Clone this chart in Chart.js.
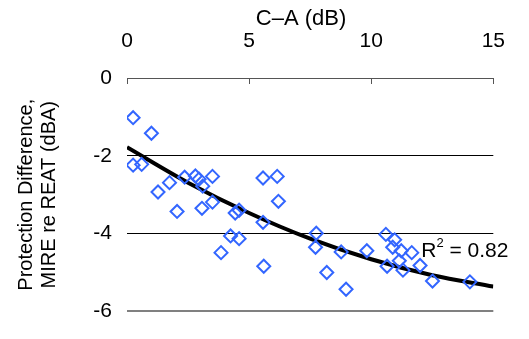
<!DOCTYPE html>
<html>
<head>
<meta charset="utf-8">
<script src="https://cdn.jsdelivr.net/npm/chart.js@4/dist/chart.umd.min.js"></script>
<style>
  html, body { margin: 0; padding: 0; background: #fff; overflow: hidden; }
  canvas { display: block; }
</style>
</head>
<body>
<canvas id="chart" width="529" height="339"></canvas>
<script>
// measured points: C-A (dB) vs protection difference (dBA)
const caValues = [0.25, 1.0, 0.25, 0.6, 1.27, 1.74, 2.36, 2.05, 2.8, 2.95, 3.1, 3.5, 3.07, 3.5,
    3.85, 4.24, 4.43, 4.59, 4.59, 5.57, 6.15, 5.57, 5.6, 6.2,
    7.75, 7.72, 8.18, 8.77, 8.97, 9.82, 10.6, 10.96, 10.88, 11.23, 11.66, 10.65, 11.15, 11.3, 12.0, 12.51, 14.04];
const diffValues = [-1.02, -1.42, -2.24, -2.22, -2.93, -2.69, -2.55, -3.43, -2.52, -2.6, -2.78, -2.53, -3.35, -3.19,
    -4.49, -4.06, -3.47, -3.40, -4.13, -2.57, -2.53, -3.71, -4.84, -3.17,
    -3.99, -4.35, -5.0, -4.47, -5.43, -4.44, -4.02, -4.16, -4.35, -4.44, -4.49, -4.84, -4.70, -4.94, -4.82, -5.22, -5.24];

// trend line
const trendX = [0, 2.5, 5, 7.5, 10, 12.5, 15];
const trendY = [-1.78, -2.69, -3.47, -4.13, -4.66, -5.07, -5.36];

const xTicks = [0, 5, 10, 15];
const yTicks = [0, -2, -4, -6];
const r2Text = "0.82";
const r2Pos = [12.05, -4.45];

const FONT = "'Liberation Sans', Arial, sans-serif";

const points = caValues.map((x, i) => ({ x: x, y: diffValues[i] }));
const trend = trendX.map((x, i) => ({ x: x, y: trendY[i] }));

// small tick marks pointing into the plot from the top axis
const innerTicks = {
    id: "innerTicks",
    afterDraw(chart) {
        const ctx = chart.ctx;
        const xs = chart.scales.x;
        const top = chart.chartArea.top;
        ctx.save();
        ctx.strokeStyle = "#555";
        ctx.lineWidth = 1;
        xTicks.forEach(v => {
            const px = Math.round(xs.getPixelForValue(v)) + 0.5;
            ctx.beginPath();
            ctx.moveTo(px, top);
            ctx.lineTo(px, top + 6);
            ctx.stroke();
        });
        ctx.restore();
    }
};

// R squared label
const r2Label = {
    id: "r2Label",
    afterDatasetsDraw(chart) {
        const ctx = chart.ctx;
        const px = chart.scales.x.getPixelForValue(r2Pos[0]);
        const py = chart.scales.y.getPixelForValue(r2Pos[1]);
        ctx.save();
        ctx.fillStyle = "#000";
        ctx.textBaseline = "middle";
        ctx.font = "21px " + FONT;
        ctx.fillText("R", px, py);
        const w = ctx.measureText("R").width;
        ctx.font = "13px " + FONT;
        ctx.fillText("2", px + w, py - 8);
        const w2 = ctx.measureText("2").width;
        ctx.font = "21px " + FONT;
        ctx.fillText(" = " + r2Text, px + w + w2, py);
        ctx.restore();
    }
};

new Chart(document.getElementById("chart"), {
    type: "scatter",
    data: {
        datasets: [
            {
                label: "trend",
                data: trend,
                type: "line",
                showLine: true,
                borderColor: "#000",
                borderWidth: 4,
                pointRadius: 0,
                cubicInterpolationMode: "monotone",
                fill: false,
                order: 1
            },
            {
                label: "data",
                data: points,
                pointStyle: "rectRot",
                pointRadius: 6.5,
                pointBorderWidth: 2,
                pointBorderColor: "#3366ff",
                pointBackgroundColor: "rgba(255,255,255,0)",
                order: 0
            }
        ]
    },
    options: {
        responsive: false,
        animation: false,
        layout: { padding: { left: 0, right: 17, top: 0, bottom: 7 } },
        plugins: {
            legend: { display: false },
            tooltip: { enabled: false }
        },
        scales: {
            x: {
                type: "linear",
                position: "top",
                min: 0,
                max: 15,
                afterFit: s => { s.height = 78; },
                afterBuildTicks: s => { s.ticks = xTicks.map(v => ({ value: v })); },
                grid: { display: false, drawTicks: false },
                border: { display: true, color: "#555", width: 1 },
                ticks: { color: "#000", font: { family: FONT, size: 21 }, padding: 24, maxRotation: 0 },
                title: {
                    display: true,
                    // trailing spaces nudge the title a little left, as in the original
                    text: "C\u2013A (dB)\u00a0\u00a0\u00a0",
                    color: "#000",
                    font: { family: FONT, size: 22 },
                    padding: { top: 6, bottom: 0 }
                }
            },
            y: {
                type: "linear",
                min: -6,
                max: 0,
                afterFit: s => { s.width = 127; },
                afterBuildTicks: s => { s.ticks = yTicks.map(v => ({ value: v })); },
                grid: {
                    drawTicks: false,
                    color: c => c.tick.value === -6 ? "#808080" : (c.tick.value === 0 ? "rgba(0,0,0,0)" : "#000"),
                    lineWidth: c => c.tick.value === -6 ? 2 : 1
                },
                border: { display: false },
                ticks: { color: "#000", font: { family: FONT, size: 21 }, padding: 15 },
                title: {
                    display: true,
                    text: ["Protection Difference,", "MIRE re REAT (dBA)"],
                    color: "#000",
                    font: { family: FONT, size: 20, lineHeight: 1.15 },
                    padding: { top: 15, bottom: 0 }
                }
            }
        }
    },
    plugins: [innerTicks, r2Label]
});
</script>
</body>
</html>
